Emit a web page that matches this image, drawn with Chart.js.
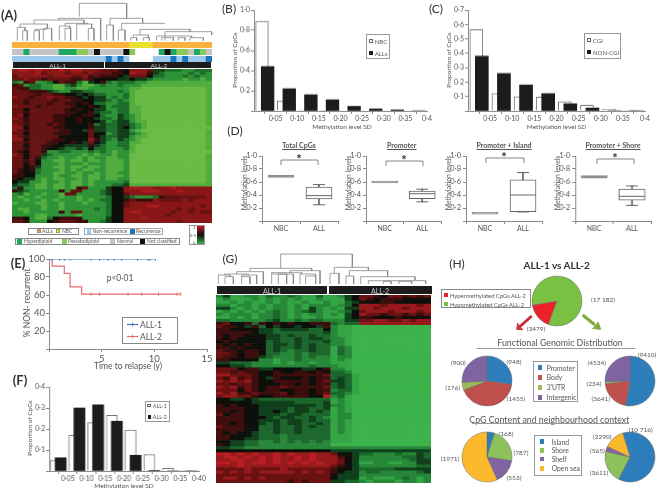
<!DOCTYPE html>
<html>
<head>
<meta charset="utf-8">
<title>Methylation panels</title>
<script src="https://cdn.jsdelivr.net/npm/chart.js@4"></script>
<style>
  html, body { margin: 0; padding: 0; background: #fff; }
  #page { position: relative; width: 657px; height: 488px; overflow: hidden; filter: blur(.5px); }
  #page canvas { position: absolute; }
  .t { position: absolute; white-space: nowrap; font-family: Lato, sans-serif; color: #555; }
  .b { position: absolute; box-sizing: border-box; }
  svg { position: absolute; left: 0; top: 0; }
</style>
</head>
<body>
<div id="page"></div>
<script>
/* ---- panels B, C, F: histogram values ---- */
const sdTicksB = ['', '0·05', '0·10', '0·15', '0·20', '0·25', '0·30', '0·35', '0·4'];
const sdTicksF = ['', '0·05', '0·10', '0·15', '0·20', '0·25', '0·30', '0·35', '0·40'];
const binStarts = [0, 0.05, 0.10, 0.15, 0.20, 0.25, 0.30, 0.35];
const nbcVals = [0.89, 0.10, 0.01, 0.003, 0, 0, 0, 0];
const allsVals = [0.44, 0.22, 0.16, 0.11, 0.045, 0.02, 0.01, 0];
const cgiVals = [0.565, 0.12, 0.10, 0.095, 0.065, 0.04, 0.012, 0.005];
const nonCgiVals = [0.38, 0.26, 0.18, 0.12, 0.05, 0.02, 0, 0];
const all1Vals = [0.05, 0.17, 0.23, 0.265, 0.195, 0.078, 0.013, 0.003];
const all2Vals = [0.063, 0.30, 0.315, 0.237, 0.075, 0.002, 0, 0];

/* ---- panel D: box plots ---- */
const boxNames = ['Total CpGs', 'Promoter', 'Promoter + Island', 'Promoter + Shore'];
const boxCats = ['NBC', 'ALL'];
const nbcLow = [0.672, 0.585, 0.105, 0.66];
const nbcHigh = [0.708, 0.615, 0.135, 0.70];
const allMin = [0.25, 0.295, 0.14, 0.24];
const allQ1 = [0.34, 0.345, 0.145, 0.32];
const allMed = [0.39, 0.42, 0.40, 0.38];
const allQ3 = [0.52, 0.46, 0.635, 0.49];
const allMax = [0.56, 0.49, 0.745, 0.54];

/* ---- panel E: survival ---- */
const stepAll1T = [0, 10.1];
const stepAll1Y = [100, 100];
const censorAll1 = [0.3, 1, 1.5, 2, 4, 4.8, 5.6, 6.2, 6.9, 8.4, 9.4, 9.6, 10.1];
const stepAll2T = [0, 0.3, 1.45, 2, 3.1, 12.5];
const stepAll2Y = [100, 92, 84, 69, 61, 61];
const censorAll2 = [4, 4.8, 7.5, 8.8, 10.4, 12.15, 12.5];

/* ---- panel H: pies ---- */
const pieMain = [3479, 17182];
const pieFuncLeft = [948, 1455, 176, 900];
const pieFuncRight = [9410, 3641, 234, 4534];
const pieCpgLeft = [168, 787, 553, 1971];
const pieCpgRight = [10716, 3611, 565, 2290];

/* ---- dendrograms: [xLeft, xRight, top, leftBase, rightBase] ---- */
const dendroA = [
  [208,350,10,50,55],[145,272,55,60,122],[72,222,60,72,70],[30,112,72,82,85],
  [22,45,82,122,92],[38,52,92,122,122],[75,110,88,92,85],[72,88,92,122,122],[100,125,85,122,122],
  [165,232,70,78,72],[148,180,78,122,85],[165,182,85,122,122],[200,245,72,122,85],[235,252,85,122,122],
  [300,398,55,75,70],[290,310,75,122,122],[335,465,70,90,70],[325,345,90,122,122],
  [390,540,88,105,95],[370,415,105,113,113],[362,380,113,122,122],[400,418,113,122,122],
  [465,605,95,122,105],[440,545,108,122,113],[455,490,113,122,122],[505,525,113,122,122],[540,580,113,122,122],
];
const dendroG = [
  [197,412,12,55,52],[105,290,55,65,62],[65,145,65,72,102],[28,100,72,75,75],
  [10,45,75,102,80],[30,55,80,102,102],[80,125,75,80,102],[80,105,80,102,102],
  [225,315,62,68,102],[170,260,68,72,72],[170,235,72,102,102],[190,215,72,102,102],[255,302,72,102,78],[272,302,78,102,102],
  [358,460,52,70,62],[345,372,70,102,102],[403,518,62,78,80],[393,416,78,102,102],
  [437,600,80,102,90],[460,632,92,102,102],[505,528,94,102,102],[552,590,94,102,102],
];

/* ---- heatmaps: one string per row, one digit per column (0 green, 5 black, 9 red) ---- */
const heatRowsA = [
  '8998988898998887 7765 88874433322333',
  '8888978887887877 7665 98864322223232',
  '7888887888778676 6654 77753322232322',
  '7787767777667655 5544 54432222212212',
  '3267223576631456 3233 32211111111111',
  '6723322113421123 2232 22111111111111',
  '7663322112211222 2222 11000000000001',
  '7776664322443322 2232 10000000000001',
  '7777677665545433 2223 10000000000001',
  '8776778776654544 2323 10000000000001',
  '7767777677665544 3232 10000000000001',
  '7767776776656533 2233 10000000000001',
  '8777677777655654 2333 11000000000001',
  '7757777776565544 2233 11000000000001',
  '7767777776655643 3233 11000000000001',
  '7857777666556653 2243 21000000000001',
  '8767777665565543 3243 21000000000001',
  '7767777665565554 2344 21100000000001',
  '8767776765555634 3344 32100000000001',
  '8857777665555644 3345 32100000000000',
  '8767777766554744 3344 21000000000001',
  '7757777666555755 2344 32100000000001',
  '8767777755555754 3344 21100000000001',
  '8857777665555864 3243 21000000000001',
  '7767776655654754 2233 11000000000001',
  '7757766554444643 2233 10000000000001',
  '7767765543343533 2223 10000000000001',
  '7657762233222323 2122 10000000000000',
  '8757743222221212 2122 00000000000001',
  '7757632212212122 1122 00000000000001',
  '7767522112112112 1112 00000000000001',
  '7757522212221222 1112 00000000000001',
  '7756422112112112 1112 00000000000001',
  '7656322212121122 1112 00000000000001',
  '7655322112212212 1122 00000000000001',
  '6655222122112112 1112 00000000000001',
  '6544212112212112 1122 00000000000001',
  '5442212212112122 2223 00000000000001',
  '4332112112112122 2334 11111111111111',
  '3622112112167222 4558 99998889888888',
  '6432222262772223 4558 88999888988888',
  '2312212217722223 4557 88888888888888',
  '2122122212212222 3554 32223677777778',
  '2212212122212123 3556 76668777787888',
  '1222112212221222 3557 88888888888888',
  '2222212212222222 3557 88899888888878',
  '2112212212222232 3558 88888888787888',
  '2212222262772222 3558 99888887887877',
  '2222112222212222 3558 88888878888888',
  '6652113566662222 4558 88988888888888',
  '7762225677766223 4558 88888888788888',
];
const heatRowsG = [
  '2411221322321131 1245 7765776767',
  '1211121212121121 1145 7656665555',
  '1121211212112112 1134 5556655555',
  '2212212122121222 1235 8887888878',
  '4421212122121421 2144 8878887888',
  '1212121232123421 1235 7888788878',
  '2122212232121221 2145 8776776767',
  '1121212232121121 1145 6655565555',
  '3322222342232332 2244 7788778788',
  '6755636565655666 3233 8888888888',
  '7665463545545546 2110 0000000000',
  '6655554434444335 2110 0000000000',
  '6666654433333334 2110 0000000000',
  '6566555443433433 2110 0000000000',
  '6565555443343443 2210 0000000000',
  '5655555343343334 2210 0000000000',
  '6565655344343433 2210 0000000000',
  '6656555343343433 1320 0000000000',
  '7665665343233433 1320 0000000000',
  '7765665332232333 1320 0000000000',
  '7665664322232322 1220 0000000000',
  '6655552212232222 1210 0000000000',
  '4433322212122122 1110 0000000000',
  '5544322222222322 2110 0000000000',
  '7775664455554456 2210 0000000000',
  '7767665565566565 3320 0000000000',
  '8877765566666667 3331 0000000000',
  '7686765465556566 3431 0000000000',
  '8787865566666567 4431 0000000000',
  '7767765556656566 3431 0000000000',
  '8786765667666667 3431 0000000000',
  '7775765665566566 2331 0000000000',
  '8786676667566567 3321 0000000000',
  '7887765566666559 2310 0000000000',
  '5544543333333333 1210 0000000000',
  '5555544444433334 1210 0000000000',
  '6565554444444434 2210 0000000000',
  '6666554444344334 1210 0000000000',
  '6656554454344343 1210 0000000000',
  '7566554443443333 1220 0000000000',
  '6666555434433432 1220 0000000000',
  '6666554443443433 1210 0000000000',
  '6656554343443343 1210 0000000000',
  '7666553343343433 1210 0000000000',
  '6666553343343333 1210 0000000000',
  '6565543343343333 1210 0000000000',
  '6655543332333333 1110 0000000000',
  '6655443332333333 1110 0000000000',
  '5544332232323232 1110 0000000000',
  '6544332222222222 0000 0000000000',
  '4433222222222222 2222 2222222222',
  '5555555555555555 4444 4444444444',
  '9989898898988988 7554 3322232243',
  '8998989898898988 8654 2222223343',
  '8899889898898988 8754 2222222344',
  '9989899898989898 8754 1122112244',
  '8889888888888888 7654 2222222233',
  '7777877778777777 6554 3333344444',
  '8787878888878787 6544 2332222234',
  '7777777777777777 5444 2222222222',
  '7887878777777777 5444 1211123212',
  '7777777777676777 4433 2122212212',
];
const stripGroup = ['OOOOOOOOOOOOOOOOOOOOYYYYOOOOOOOOOO'];
const stripKaryo = ['ggGgggggGGGLLgKggggKLWWWWGKGLLgGLg'];
const stripRecur = ['BBBBBBBBBBBBBBBBDBDBWWWWBBBDBDBBBD'];

const COL = {
  axis: '#8a8a8a', text: '#555', dark: '#1c1c1c',
  blue: '#2e7ebb', red: '#c0504d', green: '#9bbb59', purple: '#8064a2', yellow: '#fdb92d',
};
const paletteA = ['#69bb45', '#52ad3f', '#2f9337', '#1f6f2c', '#123f1a', '#0d0f0a', '#3a0e0c', '#641212', '#8a1717', '#a81c1e'];
const paletteG = ['#3bb34a', '#33a544', '#27883a', '#1c672c', '#11401c', '#0c0f0a', '#3d0e0d', '#6a1212', '#981a1c', '#b81e22'];
const paletteStrip = { O: '#fbb040', Y: '#e6e22e', g: '#c4c4c4', G: '#1fa85f', L: '#8cc85a', K: '#111', W: '#fff', B: '#9cc8ee', D: '#1a75bc' };

Chart.defaults.animation = false;
Chart.defaults.responsive = false;
Chart.defaults.plugins.legend.display = false;
Chart.defaults.plugins.tooltip.enabled = false;
Chart.defaults.font.family = 'Lato, sans-serif';
Chart.defaults.color = COL.text;

const page = document.getElementById('page');

function addCanvas(x, y, w, h) {
  const c = document.createElement('canvas');
  c.width = w; c.height = h;
  c.style.left = x + 'px'; c.style.top = y + 'px';
  c.style.width = w + 'px'; c.style.height = h + 'px';
  page.appendChild(c);
  return c;
}

function text(str, x, y, opts = {}) {
  const d = document.createElement('div');
  d.className = 't';
  d.textContent = str;
  d.style.left = x + 'px'; d.style.top = y + 'px';
  d.style.fontSize = (opts.size || 7) + 'px';
  if (opts.bold) d.style.fontWeight = 'bold';
  if (opts.color) d.style.color = opts.color;
  if (opts.underline) d.style.textDecoration = 'underline';
  const tx = opts.left ? '0' : '-50%';
  d.style.transform = `translate(${tx},-50%)` + (opts.rotate ? ` rotate(${opts.rotate}deg)` : '');
  page.appendChild(d);
}

function box(x0, y0, x1, y1, opts = {}) {
  const d = document.createElement('div');
  d.className = 'b';
  d.style.left = x0 + 'px'; d.style.top = y0 + 'px';
  d.style.width = (x1 - x0) + 'px'; d.style.height = (y1 - y0) + 'px';
  if (opts.bg) d.style.background = opts.bg;
  if (opts.border) d.style.border = '1px solid ' + opts.border;
  page.appendChild(d);
}

function swatch(cx, cy, size, color, border) {
  box(cx - size / 2, cy - size / 2, cx + size / 2, cy + size / 2, { bg: color, border });
}

// Plot area lands exactly on left/top/right/bottom; margins only hold the tick labels.
function framed(left, top, right, bottom, cfg, xOpts, yOpts, m = {}) {
  const ml = m.l || 26, mb = m.b || 14, mt = m.t || 7, mr = m.r || 12;
  const ctx = addCanvas(left - ml, top - mt, right - left + ml + mr, bottom - top + mt + mb);
  const tick = m.font || 7;
  const axis = (o, isX) => ({
    grid: { drawOnChartArea: false, color: COL.axis, tickLength: 3 },
    border: { color: COL.axis },
    ...o,
    ticks: { font: { size: tick }, color: COL.text, maxRotation: 0, autoSkip: false, padding: 1, ...o.ticks },
    afterFit: s => { if (isX) s.height = mb; else s.width = ml; },
  });
  cfg.options = {
    ...cfg.options,
    layout: { padding: { top: mt, right: mr, left: 0, bottom: 0 } },
    scales: { x: axis(xOpts, true), y: axis(yOpts, false) },
  };
  return new Chart(ctx, cfg);
}

function histogram(left, top, right, bottom, white, black, yMax, yStep, xTicks, pos, barPx) {
  const whiteData = white.map((v, i) => ({ x: binStarts[i] + pos[0], y: v }));
  const blackData = black.map((v, i) => ({ x: binStarts[i] + pos[1], y: v }));
  framed(left, top, right, bottom, {
    type: 'bar',
    data: { datasets: [
      { data: whiteData, backgroundColor: '#fff', borderColor: '#777', borderWidth: 1, barThickness: barPx, grouped: false, order: 2 },
      { data: blackData, backgroundColor: COL.dark, barThickness: barPx, grouped: false, order: 1 },
    ] },
  }, {
    type: 'linear', min: 0, max: 0.4, offset: false,
    ticks: { stepSize: 0.05, callback: (v, i) => xTicks[i] },
  }, {
    min: 0, max: yMax,
    ticks: { stepSize: yStep, callback: v => v === 0 ? '' : v.toFixed(1).replace('.', '·') },
  });
}

function heat(rows, colours, x0, y0, x1, y1) {
  const clean = rows.map(r => r.replace(/ /g, ''));
  const labels = clean[0].split('');
  const ctx = addCanvas(x0, y0, x1 - x0, y1 - y0);
  new Chart(ctx, {
    type: 'bar',
    data: {
      labels: labels.map((_, i) => i),
      datasets: clean.slice().reverse().map(r => ({
        data: labels.map(() => 1),
        backgroundColor: r.split('').map(c => colours[c]),
        barPercentage: 1, categoryPercentage: 1, borderWidth: 0,
      })),
    },
    options: {
      layout: { padding: 0 },
      scales: {
        x: { display: false, stacked: true },
        y: { display: false, stacked: true, min: 0, max: clean.length },
      },
    },
  });
}

function dendrogram(merges, x, y, w, h) {
  const ctx = addCanvas(x, y, w, h);
  new Chart(ctx, {
    type: 'scatter',
    data: { datasets: merges.map(m => ({
      data: [{ x: m[0], y: m[3] }, { x: m[0], y: m[2] }, { x: m[1], y: m[2] }, { x: m[1], y: m[4] }],
      showLine: true, borderColor: '#888', borderWidth: 0.8, pointRadius: 0,
    })) },
    options: {
      layout: { padding: 0 },
      scales: {
        x: { display: false, min: 0, max: w * 3 },
        y: { display: false, min: 0, max: h * 3, reverse: true },
      },
    },
  });
}

function boxPlot(i, left, right) {
  const lineSet = (vals, r, w, col) => ({
    type: 'line', data: vals, showLine: false, pointStyle: 'line',
    pointRadius: r, pointBorderWidth: w, pointBorderColor: col, order: 0,
  });
  framed(left, 148.7, right, 222.8, {
    type: 'bar',
    data: {
      labels: boxCats,
      datasets: [
        lineSet([null, allMed[i]], 13, 1, '#666'),
        lineSet([null, allMin[i]], 6, 1, '#666'),
        lineSet([null, allMax[i]], 6, 1, '#666'),
        { data: [[nbcLow[i], nbcHigh[i]], [allQ1[i], allQ3[i]]], backgroundColor: ['#8f8f8f', '#fff'],
          borderColor: ['#8f8f8f', '#666'], borderWidth: 1, borderSkipped: false, barThickness: 26, grouped: false, order: 1 },
        { data: [null, [allMin[i], allMax[i]]], backgroundColor: '#666', barThickness: 1, grouped: false, order: 2 },
      ],
    },
  }, {
    grid: { drawOnChartArea: false, color: COL.axis, tickLength: 3 },
    ticks: { font: { size: 7 } },
  }, {
    min: 0, max: 1,
    ticks: { stepSize: 0.2, font: { size: 7.5 }, padding: 2, callback: v => v === 0 ? '' : v.toFixed(1).replace('.', '·') },
  }, { l: 22, b: 12 });
}

function pie(vals, colours, cx, cy, r, rotation) {
  const size = 2 * r + 4;
  const ctx = addCanvas(cx - size / 2, cy - size / 2, size, size);
  new Chart(ctx, {
    type: 'pie',
    data: { labels: vals.map(String), datasets: [{ data: vals, backgroundColor: colours, borderColor: '#6a6a6a', borderWidth: 0.5 }] },
    options: { layout: { padding: 0 }, radius: r, rotation },
  });
}

/* ---- A ---- */
text('(A)', 9, 15, { size: 13, bold: true, color: '#333' });
dendrogram(dendroA, 10, 0, 205, 42);
heat(stripGroup, paletteStrip, 12, 41.7, 212, 48);
heat(stripKaryo, paletteStrip, 12, 49, 212, 55);
heat(stripRecur, paletteStrip, 12, 56, 212, 61.5);
box(12.7, 62, 103.7, 68, { bg: COL.dark });
box(104.7, 62, 211.3, 68, { bg: COL.dark });
text('ALL-1', 57.7, 65.3, { size: 6.5, color: '#ccc' });
text('ALL-2', 159, 65.3, { size: 6.5, color: '#ccc' });
heat(heatRowsA, paletteA, 12, 69, 212, 223);

box(28, 228, 79, 234.5, { border: '#888' });
box(84, 228, 163, 234.5, { border: '#aaa' });
box(15, 237.7, 180, 245, { border: '#888' });
swatch(39, 231.3, 4, '#f0a030', '#a86');
text('ALLs', 42, 231.3, { size: 5, left: true });
swatch(58, 231.3, 4, '#e6e22e', '#996');
text('NBC', 62, 231.3, { size: 5, left: true });
swatch(89, 231.3, 4.5, '#9cc8ee');
text('Non-recurrence', 92.5, 231.3, { size: 5, left: true });
swatch(132.7, 231.3, 4.5, '#1a75bc');
text('Recurrence', 136, 231.3, { size: 5, left: true });
swatch(19, 241.3, 5, '#1fa85f');
text('Hyperdiploid', 24, 241.3, { size: 5, left: true });
swatch(64, 241.3, 5, '#8cc85a');
text('Pseudodiploid', 68, 241.3, { size: 5, left: true });
swatch(112, 241.3, 5, '#c4c4c4');
text('Normal', 117, 241.3, { size: 5, left: true });
swatch(142, 241.3, 5, '#111');
text('Not classified', 147, 241.3, { size: 5, left: true });
box(189, 224.5, 205, 245, { border: '#999' });
box(197, 226, 204, 244, { bg: 'linear-gradient(#c01c20, #111 50%, #3ab54a)' });
text('1', 194, 227, { size: 4.5 });
text('0·5', 193, 234.5, { size: 4.5 });
text('0', 194, 243, { size: 4.5 });

/* ---- B ---- */
text('(B)', 229, 8, { size: 12, color: '#333' });
histogram(254, 10, 427, 110.5, nbcVals, allsVals, 1, 0.2, sdTicksB, [0.0185, 0.0315], 12.7);
text('Methylation level SD', 342, 125.5, { size: 6.5 });
text('Proportion of CpGs', 234, 60, { size: 6.5, rotate: -90 });
box(366, 34, 390, 59, { border: '#999' });
swatch(370.5, 40.7, 4, '#fff', '#666');
text('NBC', 374.7, 40.7, { size: 6, left: true });
swatch(370.5, 53.3, 4, COL.dark);
text('ALLs', 374.7, 53.3, { size: 6, left: true });

/* ---- C ---- */
text('(C)', 436, 8, { size: 12, color: '#333' });
histogram(468, 10, 645, 110.7, cgiVals, nonCgiVals, 0.7, 0.1, sdTicksB, [0.0188, 0.0312], 13);
text('Methylation level SD', 556.5, 125.5, { size: 6.5 });
text('Proportion of CpGs', 448, 60, { size: 6.5, rotate: -90 });
box(583.7, 33, 621.3, 59, { border: '#999' });
swatch(589, 40, 4, '#fff', '#666');
text('CGI', 593, 40, { size: 6, left: true });
swatch(589, 52.3, 4, COL.dark);
text('NON-CGI', 593, 52.3, { size: 6, left: true });

/* ---- D ---- */
text('(D)', 235, 130, { size: 12, color: '#333' });
boxPlot(0, 261.7, 339.7);
boxPlot(1, 365.7, 442.7);
boxPlot(2, 466, 544);
boxPlot(3, 575, 652.5);
const boxTitleX = [299, 401.7, 504, 613];
const boxAxisTitleX = [243.5, 347.5, 448, 557];
boxNames.forEach((n, i) => {
  text(n, boxTitleX[i], 145, { size: 7, bold: true, underline: true });
  text('Methylation levels', boxAxisTitleX[i], 183, { size: 6.8, rotate: -90 });
});
[[299, 156.5], [404, 158], [504, 154.5], [615, 155.5]].forEach(p => text('*', p[0], p[1] + 2, { size: 13, bold: true, color: '#333' }));

/* ---- E ---- */
text('(E)', 18, 263, { size: 13, bold: true, color: '#333' });
const survivalSet = (t, y, col) => ({
  type: 'line', data: t.map((v, i) => ({ x: v, y: y[i] })), borderColor: col, borderWidth: 1.2, pointRadius: 0, stepped: 'before',
});
const censorSet = (t, y, col) => ({
  type: 'scatter', data: t.map(v => ({ x: v, y })), pointStyle: 'line', rotation: 90,
  pointRadius: 2, pointBorderWidth: 0.8, pointBorderColor: col,
});
framed(48.7, 259.3, 206.7, 349.3, {
  type: 'line',
  data: { datasets: [
    survivalSet(stepAll1T, stepAll1Y, '#4472c4'),
    survivalSet(stepAll2T, stepAll2Y, '#e46c6c'),
    censorSet(censorAll1, 100, '#4472c4'),
    censorSet(censorAll2, 61, '#e46c6c'),
  ] },
}, {
  type: 'linear', min: 0, max: 15,
  ticks: { stepSize: 5, callback: v => v === 0 ? '' : v },
}, {
  min: 0, max: 100,
  ticks: { stepSize: 20, callback: v => v === 0 ? '' : v },
}, { l: 30, b: 14, t: 8, r: 12, font: 9.5 });
text('Time to relapse (y)', 128, 366, { size: 8.5 });
text('% NON- recurrent', 27, 303, { size: 8.5, rotate: -90 });
text('p<0·01', 120, 278, { size: 8.5 });
box(122, 317, 178, 344, { border: '#888' });
text('ALL-1', 140, 324.5, { size: 8.5, left: true });
text('ALL-2', 140, 336.5, { size: 8.5, left: true });

/* ---- F ---- */
text('(F)', 20, 380, { size: 13, bold: true, color: '#333' });
histogram(49.3, 386.7, 198.7, 471.3, all1Vals, all2Vals, 0.4, 0.1, sdTicksF, [0.0174, 0.0308], 11);
text('Methylation level SD', 124, 484.5, { size: 6.5 });
text('Proportion of CpGs', 29, 428, { size: 6.5, rotate: -90 });
box(144.7, 400.7, 170, 421.7, { border: '#999' });
swatch(149, 405.7, 3.5, '#fff', '#666');
text('ALL-1', 152.7, 405.7, { size: 5.5, left: true });
swatch(149.5, 417, 3.5, COL.dark);
text('ALL-2', 152.7, 417, { size: 5.5, left: true });

/* ---- G ---- */
text('(G)', 230, 258, { size: 12, color: '#333' });
dendrogram(dendroG, 215, 250, 212, 36);
box(217, 285.7, 326.7, 294.5, { bg: COL.dark });
box(328.7, 285.7, 431.7, 294.5, { bg: COL.dark });
text('ALL-1', 272, 290.5, { size: 7, color: '#ccc' });
text('ALL-2', 380, 290.5, { size: 7, color: '#ccc' });
heat(heatRowsG, paletteG, 216.3, 295.3, 431.3, 483.3);

/* ---- H ---- */
text('(H)', 457, 263, { size: 12, color: '#333' });
text('ALL-1 vs ALL-2', 556.7, 265.3, { size: 10, bold: true, color: '#333' });
pie(pieMain, ['#ed2228', '#7ac143'], 556.7, 300.7, 25, 200);
text('(17 182)', 603, 298.7, { size: 6.5 });
text('(3479)', 536, 328, { size: 6.5 });
box(440.7, 289, 530.7, 308.3, { border: '#888' });
swatch(445.7, 295, 4, '#ed2228');
text('Hypermethylated CpGs ALL-2', 450, 295, { size: 5.8, left: true });
swatch(445.7, 304, 4, '#7ac143');
text('Hypomethylated CpGs  ALL-2', 450, 304, { size: 5.8, left: true });

text('Functional Genomic Distribution', 560, 342, { size: 8.8 });
box(477, 347.7, 635, 348.5, { bg: '#999' });
const funcColours = [COL.blue, COL.red, COL.green, COL.purple];
pie(pieFuncLeft, funcColours, 487.3, 380.7, 25, 0);
pie(pieFuncRight, funcColours, 630, 380.7, 25, 0);
[['(900)', 458.3, 362], ['(948)', 514, 361], ['(176)', 452.7, 387], ['(1455)', 516, 398],
 ['(4534)', 596.7, 361.5], ['(9410)', 647, 354], ['(234)', 594, 382.7], ['(3641)', 600.7, 398],
 ['(168)', 506, 432.7], ['(787)', 521, 451.7], ['(1971)', 450, 458.3], ['(553)', 514, 477],
 ['(10 716)', 640.7, 429.3], ['(2290)', 602.3, 436.3], ['(565)', 597.3, 450], ['(3611)', 599, 472.3],
].forEach(l => text(l[0], l[1], l[2], { size: 6.5 }));

box(533, 360.7, 577.7, 401.7, { border: '#999' });
[['Promoter', COL.blue, 367.7], ['Body', COL.red, 377.3], ["3'UTR", COL.green, 387.3], ['Intergenic', COL.purple, 397.3]].forEach(e => {
  swatch(540, e[2], 4.5, e[1]);
  text(e[0], 546.7, e[2], { size: 6.8, left: true });
});

text('CpG Content and neighbourhood context', 549.3, 418.7, { size: 8.8 });
box(471.7, 423, 629, 423.8, { bg: '#999' });
const cpgColours = [COL.blue, '#8dc15a', COL.purple, COL.yellow];
pie(pieCpgLeft, cpgColours, 487, 457, 25, 0);
pie(pieCpgRight, cpgColours, 630.3, 457, 25, -17);
box(534, 434.7, 581.7, 475.7, { border: '#999' });
[['Island', COL.blue, 441.7], ['Shore', '#8dc15a', 450.3], ['Shelf', COL.purple, 459], ['Open sea', COL.yellow, 468.3]].forEach(e => {
  swatch(542, e[2], 4.5, e[1]);
  text(e[0], 551.7, e[2], { size: 6.8, left: true });
});

/* ---- brackets, arrows and legend keys on top ---- */
const brackets = [[281, 318, 160], [386, 423, 161], [486, 524, 158], [597, 634, 159]];
const svgNS = 'http://www.w3.org/2000/svg';
const svg = document.createElementNS(svgNS, 'svg');
svg.setAttribute('width', 657); svg.setAttribute('height', 488);
const addLine = (pts, col, w, fill) => {
  const p = document.createElementNS(svgNS, 'polyline');
  p.setAttribute('points', pts);
  p.setAttribute('stroke', col); p.setAttribute('stroke-width', w);
  p.setAttribute('fill', fill || 'none');
  svg.appendChild(p);
};
brackets.forEach(b => addLine(`${b[0]},${b[2] + 5} ${b[0]},${b[2]} ${b[1]},${b[2]} ${b[1]},${b[2] + 5}`, '#666', 0.8));
addLine('531.7,316 520,326.5', '#c8323c', 3);
addLine('523,329.8 516.7,329.3 517.7,323', '#c8323c', 1, '#c8323c');
addLine('582.7,315 595,325', '#7fa843', 3);
addLine('592.5,328.5 600.7,329.3 598,322', '#7fa843', 1, '#7fa843');
addLine('127,324.5 138,324.5', '#4472c4', 1.2);
addLine('132.5,322.5 132.5,326.5', '#4472c4', 0.8);
addLine('127,336.5 138,336.5', '#e46c6c', 1.2);
addLine('132.5,334.5 132.5,338.5', '#e46c6c', 0.8);
page.appendChild(svg);
</script>
</body>
</html>
